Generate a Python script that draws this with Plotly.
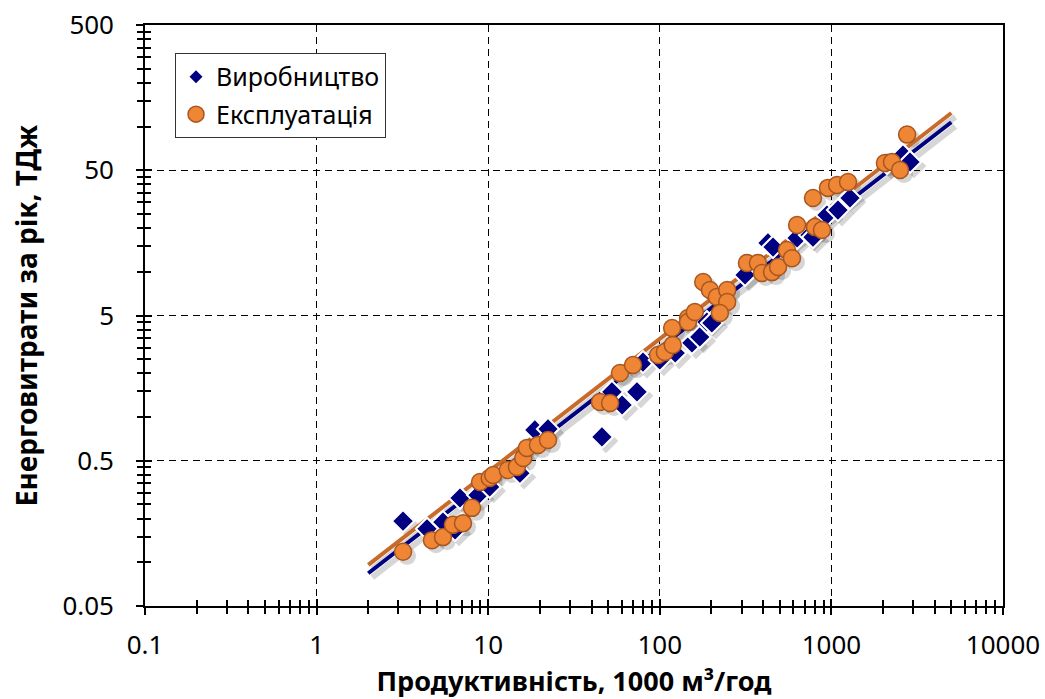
import math
import plotly.graph_objects as go

# ---------------- data ----------------
prod_x = [3.19, 4.4, 5.45, 6.41, 6.85, 8.73, 10.2, 15.3, 18.7, 22.3, 46.0, 60.3, 52.6, 73.6,
          79.8, 100, 123, 154, 171, 188, 201, 314, 427, 457, 631, 750, 781, 942, 1092,
          1283, 2109, 2612, 2871]
prod_y = [0.192, 0.17, 0.189, 0.167, 0.277, 0.290, 0.33, 0.41, 0.815, 0.828, 0.729, 1.21,
          1.49, 1.49, 2.39, 2.47, 2.76, 3.24, 3.56, 4.51, 4.44, 9.51, 15.8, 14.8, 17.1,
          17.9, 17.3, 24.6, 26.6, 32.2, 56.1, 63.7, 57.0]

oper_x = [3.19, 4.70, 5.45, 6.23, 7.13, 8.05, 8.96, 10.2, 10.7, 13.0, 14.7, 16.0, 16.8, 19.5,
          22.3, 44.8, 51.3, 58.6, 69.8, 97.7, 107, 119, 118, 146, 146, 160, 179, 196, 215,
          247, 247, 224, 322, 373, 394, 451, 489, 551, 589, 631, 802, 881, 781, 955, 1079,
          1250, 2051, 2254, 2512, 2761]
oper_y = [0.118, 0.142, 0.149, 0.181, 0.186, 0.237, 0.357, 0.380, 0.399, 0.432, 0.453, 0.522,
          0.612, 0.641, 0.695, 1.27, 1.25, 2.01, 2.28, 2.67, 2.80, 3.13, 4.10, 4.81, 4.51,
          5.28, 8.51, 7.49, 6.70, 7.49, 6.19, 5.20, 11.5, 11.5, 9.82, 9.95, 10.8, 14.1,
          12.4, 21.0, 20.3, 19.4, 32.2, 37.8, 39.6, 41.5, 56.1, 57.0, 50.2, 88.0]

# power trendlines (end points)
trend_x = [2, 5000]
trend_prod_y = [0.084, 107]
trend_oper_y = [0.096, 124]

x_ticks = [0.1, 1, 10, 100, 1000, 10000]
x_tick_text = ["0.1", "1", "10", "100", "1000", "10000"]
y_ticks = [0.05, 0.5, 5, 50, 500]
y_tick_text = ["0.05", "0.5", "5", "50", "500"]
x_minor = [m * d for d in [0.1, 1, 10, 100, 1000] for m in range(2, 10)]
y_minor = [m * d for d in [0.05, 0.5, 5, 50] for m in range(2, 10)]

series_names = ["Виробництво", "Експлуатація"]
x_title = "Продуктивність, 1000 м³/год"
y_title = "Енерговитрати за рік, ТДж"

# ---------------- styling ----------------
W, H = 1045, 699
ML, MR, MT, MB = 145, 42, 25, 93
FONT = "Noto Sans"
NAVY = "#000080"
ORANGE = "#EE8636"
ORANGE_EDGE = "#A85620"
ORANGE_LINE = "#C86A2A"

# drop-shadow offset expressed through the axis scales (4 px right/down)
px_per_dec_x = (W - ML - MR) / 5.0
px_per_dec_y = (H - MT - MB) / 4.0
sx = 10 ** (4 / px_per_dec_x)
sy = 10 ** (-4 / px_per_dec_y)


def shifted(xs, ys):
    return [v * sx for v in xs], [v * sy for v in ys]


fig = go.Figure()

SHADOW = "rgba(0,0,0,0.16)"

# shadows
tx, ty = shifted(trend_x, trend_prod_y)
fig.add_trace(go.Scatter(x=tx, y=ty, mode="lines", line=dict(color=SHADOW, width=6),
                         showlegend=False, hoverinfo="skip"))
tx, ty = shifted(trend_x, trend_oper_y)
fig.add_trace(go.Scatter(x=tx, y=ty, mode="lines", line=dict(color=SHADOW, width=6),
                         showlegend=False, hoverinfo="skip"))
sxp, syp = shifted(prod_x, prod_y)
fig.add_trace(go.Scatter(x=sxp, y=syp, mode="markers",
                         marker=dict(symbol="diamond", size=19, color=SHADOW, line=dict(width=0)),
                         showlegend=False, hoverinfo="skip"))
sxo, syo = shifted(oper_x, oper_y)
fig.add_trace(go.Scatter(x=sxo, y=syo, mode="markers",
                         marker=dict(symbol="circle", size=18, color=SHADOW, line=dict(width=0)),
                         showlegend=False, hoverinfo="skip"))

# trendlines
fig.add_trace(go.Scatter(x=trend_x, y=trend_prod_y, mode="lines",
                         line=dict(color=NAVY, width=4), showlegend=False))
fig.add_trace(go.Scatter(x=trend_x, y=trend_oper_y, mode="lines",
                         line=dict(color=ORANGE_LINE, width=4), showlegend=False))

# data
fig.add_trace(go.Scatter(x=prod_x, y=prod_y, mode="markers", name=series_names[0],
                         marker=dict(symbol="diamond", size=17, color=NAVY,
                                     line=dict(color="white", width=2)),
                         showlegend=False))
fig.add_trace(go.Scatter(x=oper_x, y=oper_y, mode="markers", name=series_names[1],
                         marker=dict(symbol="circle", size=17, color=ORANGE,
                                     line=dict(color=ORANGE_EDGE, width=1.5)),
                         showlegend=False))

# legend entries
fig.add_trace(go.Scatter(x=[None], y=[None], mode="markers", name=series_names[0],
                         legendgroup="a",
                         marker=dict(symbol="diamond", size=10, color=NAVY)))
fig.add_trace(go.Scatter(x=[None], y=[None], mode="markers", name=series_names[1],
                         legendgroup="b",
                         marker=dict(symbol="circle", size=16, color=ORANGE,
                                     line=dict(color=ORANGE_EDGE, width=1.5))))

# helper trace for the overlay axes (inner half of the crossing ticks)
fig.add_trace(go.Scatter(x=[None], y=[None], xaxis="x2", yaxis="y2", showlegend=False))

xr = [math.log10(x_ticks[0]), math.log10(x_ticks[-1])]
yr = [math.log10(y_ticks[0]), math.log10(y_ticks[-1])]

tickfont = dict(family=FONT, size=26, color="black")
grid = dict(showgrid=True, gridcolor="black", gridwidth=1.3, griddash="7px,5px")

fig.update_layout(
    width=W, height=H,
    margin=dict(l=ML, r=MR, t=MT, b=MB, autoexpand=False),
    paper_bgcolor="white", plot_bgcolor="white",
    font=dict(family=FONT, color="black"),
    xaxis=dict(type="log", range=xr, tickvals=x_ticks, ticktext=x_tick_text,
               ticks="outside", ticklen=7, tickwidth=1.5, tickcolor="black",
               showline=True, linecolor="black", linewidth=1.6, mirror=True,
               zeroline=False, tickfont=tickfont, ticklabelstandoff=8, automargin=False,
               minor=dict(tickvals=x_minor, ticks="outside", ticklen=6, tickwidth=1.5,
                          tickcolor="black", showgrid=False),
               title=dict(text="<b>" + x_title + "</b>", standoff=12,
                          font=dict(family=FONT, size=27, color="black")),
               **grid),
    yaxis=dict(type="log", range=yr, tickvals=y_ticks, ticktext=y_tick_text,
               ticks="outside", ticklen=7, tickwidth=1.5, tickcolor="black",
               showline=True, linecolor="black", linewidth=1.6, mirror=True,
               zeroline=False, tickfont=tickfont, ticklabelstandoff=17, automargin=False,
               minor=dict(tickvals=y_minor, ticks="outside", ticklen=6, tickwidth=1.5,
                          tickcolor="black", showgrid=False),
               title=dict(text="<b>" + y_title + "</b>", standoff=17,
                          font=dict(family=FONT, size=28, color="black")),
               **grid),
    xaxis2=dict(type="log", range=xr, overlaying="x", anchor="y", side="bottom",
                tickvals=x_ticks, showticklabels=False, ticks="inside", ticklen=7,
                tickwidth=1.5, tickcolor="black", showgrid=False, showline=False,
                zeroline=False, automargin=False,
                minor=dict(tickvals=x_minor, ticks="inside", ticklen=6, tickwidth=1.5,
                           tickcolor="black", showgrid=False)),
    yaxis2=dict(type="log", range=yr, overlaying="y", anchor="x", side="left",
                tickvals=y_ticks, showticklabels=False, ticks="inside", ticklen=7,
                tickwidth=1.5, tickcolor="black", showgrid=False, showline=False,
                zeroline=False, automargin=False,
                minor=dict(tickvals=y_minor, ticks="inside", ticklen=6, tickwidth=1.5,
                           tickcolor="black", showgrid=False)),
    legend=dict(x=0.035, y=0.952, xanchor="left", yanchor="top",
                bgcolor="white", bordercolor="#333333", borderwidth=1,
                font=dict(family=FONT, size=25, color="black"),
                traceorder="grouped", tracegroupgap=2, itemsizing="trace"),
    showlegend=True,
)

fig.write_html("out.html")
